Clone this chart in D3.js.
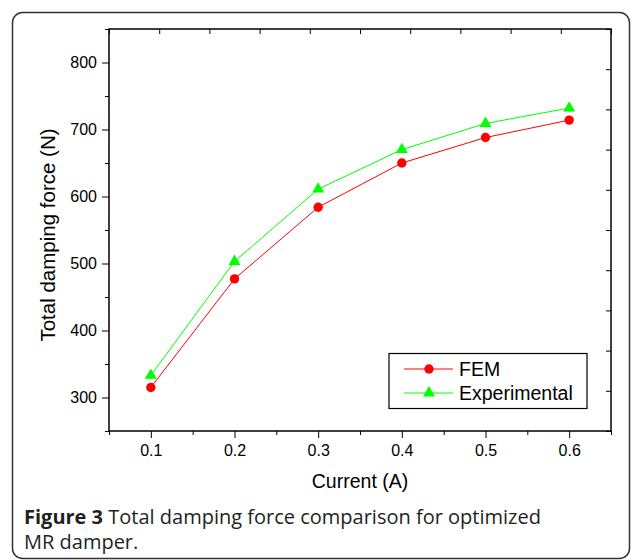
<!DOCTYPE html>
<html>
<head>
<meta charset="utf-8">
<script src="https://cdn.jsdelivr.net/npm/d3@7"></script>
<style>
body { margin: 0; background: #fff; }
svg { display: block; }
.tick text { font-family: "Liberation Sans", Arial, sans-serif; font-size: 16px; fill: #000; }
.tick line { stroke: #000; }
</style>
</head>
<body>
<script>
"use strict"

// values
const currents = [0.1, 0.2, 0.3, 0.4, 0.5, 0.6];
const femForce = [315, 477, 584, 650, 688, 714];
const expForce = [333, 503, 611, 670, 709, 732];
const xTicks = [0.1, 0.2, 0.3, 0.4, 0.5, 0.6];
const xMinor = [0.05, 0.15, 0.25, 0.35, 0.45, 0.55, 0.65];
const yTicks = [300, 400, 500, 600, 700, 800];
const yMinor = [250, 350, 450, 550, 650, 750, 850];
const seriesNames = ['FEM', 'Experimental'];

const w = 633;
const h = 560;
const plotLeft = 109, plotRight = 611, plotTop = 29, plotBottom = 431;
const font = '"Liberation Sans", Arial, sans-serif';

const svg = d3.select('body')
	.append('svg')
	.attr('width', w)
	.attr('height', h);

// card border
svg.append('rect')
	.attr('x', 12.5)
	.attr('y', 12.5)
	.attr('width', 617)
	.attr('height', 546)
	.attr('rx', 10)
	.attr('fill', 'none')
	.attr('stroke', '#333')
	.attr('stroke-width', 1.5);

const xScale = d3.scaleLinear()
	.domain([0.05, 0.65])
	.range([plotLeft, plotRight]);
const yScale = d3.scaleLinear()
	.domain([250, 850])
	.range([plotBottom, plotTop]);
// top / right frame ticks use their own divisions
const topScale = d3.scaleLinear().domain([0, 10]).range([plotLeft, plotRight]);
const rightScale = d3.scaleLinear().domain([0, 10]).range([plotBottom, plotTop]);

function addAxis(axis, tx, ty) {
	const g = svg.append('g')
		.attr('transform', 'translate(' + tx + ',' + ty + ')')
		.call(axis);
	g.select('.domain').remove();
	return g;
}

addAxis(d3.axisBottom(xScale).tickValues(xTicks).tickSize(7).tickPadding(7)
	.tickFormat(d3.format('.1f')), 0, plotBottom);
addAxis(d3.axisBottom(xScale).tickValues(xMinor).tickSize(4).tickFormat(''), 0, plotBottom);
addAxis(d3.axisLeft(yScale).tickValues(yTicks).tickSize(7).tickPadding(5)
	.tickFormat(d3.format('d')), plotLeft, 0);
addAxis(d3.axisLeft(yScale).tickValues(yMinor).tickSize(4).tickFormat(''), plotLeft, 0);
addAxis(d3.axisBottom(topScale).ticks(10).tickSize(5).tickFormat(''), 0, plotTop);
addAxis(d3.axisLeft(rightScale).ticks(10).tickSize(5).tickFormat(''), plotRight, 0);

svg.append('rect')
	.attr('x', plotLeft)
	.attr('y', plotTop)
	.attr('width', plotRight - plotLeft)
	.attr('height', plotBottom - plotTop)
	.attr('fill', 'none')
	.attr('stroke', '#000')
	.attr('stroke-width', 1.5);

const series = [
	{ name: seriesNames[0], values: femForce, color: '#ff0000', shape: 'circle' },
	{ name: seriesNames[1], values: expForce, color: '#00ff00', shape: 'triangle' }
];

const line = d3.line()
	.x(d => xScale(d[0]))
	.y(d => yScale(d[1]));

const triangle = d3.symbol().type(d3.symbolTriangle).size(62);

function drawMarker(g, s, x, y) {
	if (s.shape === 'circle') {
		g.append('circle')
			.attr('cx', x)
			.attr('cy', y)
			.attr('r', 4.7)
			.attr('fill', s.color);
	} else {
		g.append('path')
			.attr('d', triangle)
			.attr('transform', 'translate(' + x + ',' + y + ')')
			.attr('fill', s.color);
	}
}

series.forEach(s => {
	const pts = currents.map((c, i) => [c, s.values[i]]);
	svg.append('path')
		.datum(pts)
		.attr('d', line)
		.attr('fill', 'none')
		.attr('stroke', s.color)
		.attr('stroke-width', 1);
	const g = svg.append('g');
	pts.forEach(p => drawMarker(g, s, xScale(p[0]), yScale(p[1])));
});

// legend
const legend = svg.append('g');
legend.append('rect')
	.attr('x', 389)
	.attr('y', 353.5)
	.attr('width', 198)
	.attr('height', 55)
	.attr('fill', '#fff')
	.attr('stroke', '#000')
	.attr('stroke-width', 1.2);

series.forEach((s, i) => {
	const ly = 369 + i * 24;
	legend.append('line')
		.attr('x1', 404).attr('x2', 453)
		.attr('y1', ly).attr('y2', ly)
		.attr('stroke', s.color)
		.attr('stroke-width', 1);
	drawMarker(legend, s, 429, ly);
	legend.append('text')
		.attr('x', 459)
		.attr('y', ly + 7)
		.attr('font-family', font)
		.attr('font-size', 19.5)
		.text(s.name);
});

// axis titles
svg.append('text')
	.attr('x', (plotLeft + plotRight) / 2)
	.attr('y', 488)
	.attr('text-anchor', 'middle')
	.attr('font-family', font)
	.attr('font-size', 19.5)
	.text('Current (A)');

svg.append('text')
	.attr('transform', 'translate(55,' + ((plotTop + plotBottom) / 2 + 5) + ') rotate(-90)')
	.attr('text-anchor', 'middle')
	.attr('font-family', font)
	.attr('font-size', 20.5)
	.text('Total damping force (N)');

// caption
const caption = svg.append('g')
	.attr('font-family', '"Open Sans", "Noto Sans", sans-serif')
	.attr('font-size', 20)
	.attr('fill', '#231f20');

const line1 = caption.append('text')
	.attr('x', 24)
	.attr('y', 524);
line1.append('tspan').attr('font-weight', 'bold').text('Figure 3');
line1.append('tspan').text(' Total damping force comparison for optimized');

caption.append('text')
	.attr('x', 24)
	.attr('y', 549)
	.text('MR damper.');
</script>
</body>
</html>
